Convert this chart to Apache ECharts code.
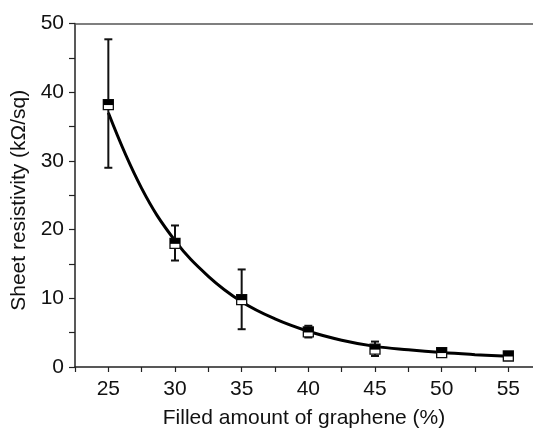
<!DOCTYPE html>
<html>
<head>
<meta charset="utf-8">
<script src="https://cdn.jsdelivr.net/npm/echarts@6/dist/echarts.min.js"></script>
<style>html,body{margin:0;padding:0;background:#fff}#c{width:533px;height:434px}</style>
</head>
<body>
<div id="c"></div>
<script>
// Data
var xValues   = [25, 30, 35, 40, 45, 50, 55];
var yValues   = [38.2, 18.0, 9.8, 5.1, 2.6, 2.1, 1.6];
var errLow    = [29.0, 15.5, 5.5, 4.3, 1.6, 1.7, 1.2];
var errHigh   = [47.7, 20.6, 14.2, 6.0, 3.7, 2.5, 2.0];
var fitX      = [25, 27.5, 30, 32.5, 35, 37.5, 40, 42.5, 45, 47.5, 50, 52.5, 55];
var fitY      = [37.0, 26.0, 18.4, 13.2, 9.5, 7.0, 5.2, 3.9, 3.0, 2.5, 2.1, 1.8, 1.55];
var xTicks    = [25, 30, 35, 40, 45, 50, 55];
var yTicks    = [0, 10, 20, 30, 40, 50];

var FONT = 'Liberation Sans, Arial, sans-serif';
var AX = '#222';

var errData = xValues.map(function (x, i) { return [x, errLow[i], errHigh[i]]; });
var ptData  = xValues.map(function (x, i) { return [x, yValues[i]]; });
var fitData = fitX.map(function (x, i) { return [x, fitY[i]]; });

var chart = echarts.init(document.getElementById('c'), null, {renderer: 'canvas'});
chart.setOption({
  animation: false,
  backgroundColor: '#fff',
  grid: {left: 75, top: 23.5, bottom: 64, right: 0, containLabel: false},
  xAxis: [{
    type: 'value', min: 22.5, max: 56.85, interval: 2.5,
    name: 'Filled amount of graphene (%)', nameLocation: 'middle', nameGap: 41,
    nameTextStyle: {fontFamily: FONT, fontSize: 21, color: '#111'},
    axisLine: {show: true, lineStyle: {color: AX, width: 1.5}},
    axisTick: {show: true, inside: false, length: 5, lineStyle: {color: AX, width: 1.2}},
    axisLabel: {fontFamily: FONT, fontSize: 21, color: '#111', margin: 12, showMaxLabel: false,
      formatter: function (v) { return xTicks.indexOf(v) >= 0 ? String(v) : ''; }},
    splitLine: {show: false}
  }, {
    type: 'value', position: 'top', min: 22.5, max: 56.85,
    axisLine: {show: true, lineStyle: {color: '#555', width: 1.6}},
    axisTick: {show: false}, axisLabel: {show: false}, splitLine: {show: false}
  }],
  yAxis: {
    type: 'value', min: 0, max: 50, interval: 5,
    name: 'Sheet resistivity (kΩ/sq)', nameLocation: 'middle', nameGap: 42,
    nameTextStyle: {fontFamily: FONT, fontSize: 21, color: '#111', padding: [0, 0, 0, -10]},
    axisLine: {show: true, lineStyle: {color: AX, width: 1.5}},
    axisTick: {show: true, inside: false, length: 6, lineStyle: {color: AX, width: 1.2}},
    axisLabel: {fontFamily: FONT, fontSize: 21, color: '#111', margin: 11,
      formatter: function (v) { return yTicks.indexOf(v) >= 0 ? String(v) : ''; }},
    splitLine: {show: false}
  },
  series: [{
    type: 'line', data: fitData, smooth: 0.4, symbol: 'none',
    lineStyle: {color: '#000', width: 3}, z: 2
  }, {
    type: 'custom', data: errData, z: 3,
    renderItem: function (params, api) {
      var x = api.value(0);
      var lo = api.coord([x, api.value(1)]);
      var hi = api.coord([x, api.value(2)]);
      var w = 4;
      var st = {stroke: '#111', lineWidth: 2, fill: null};
      return {type: 'group', children: [
        {type: 'line', shape: {x1: lo[0], y1: lo[1], x2: hi[0], y2: hi[1]}, style: st},
        {type: 'line', shape: {x1: lo[0] - w, y1: lo[1], x2: lo[0] + w, y2: lo[1]}, style: st},
        {type: 'line', shape: {x1: hi[0] - w, y1: hi[1], x2: hi[0] + w, y2: hi[1]}, style: st}
      ]};
    }
  }, {
    type: 'custom', data: ptData, z: 4,
    renderItem: function (params, api) {
      var p = api.coord([api.value(0), api.value(1)]);
      var s = 10;
      return {type: 'group', children: [
        {type: 'rect', shape: {x: p[0] - s / 2, y: p[1] - s / 2, width: s, height: s},
          style: {fill: '#fff', stroke: '#111', lineWidth: 1.3}},
        {type: 'rect', shape: {x: p[0] - s / 2, y: p[1] - s / 2, width: s, height: s * 0.55},
          style: {fill: '#000'}}
      ]};
    }
  }]
});
</script>
</body>
</html>
